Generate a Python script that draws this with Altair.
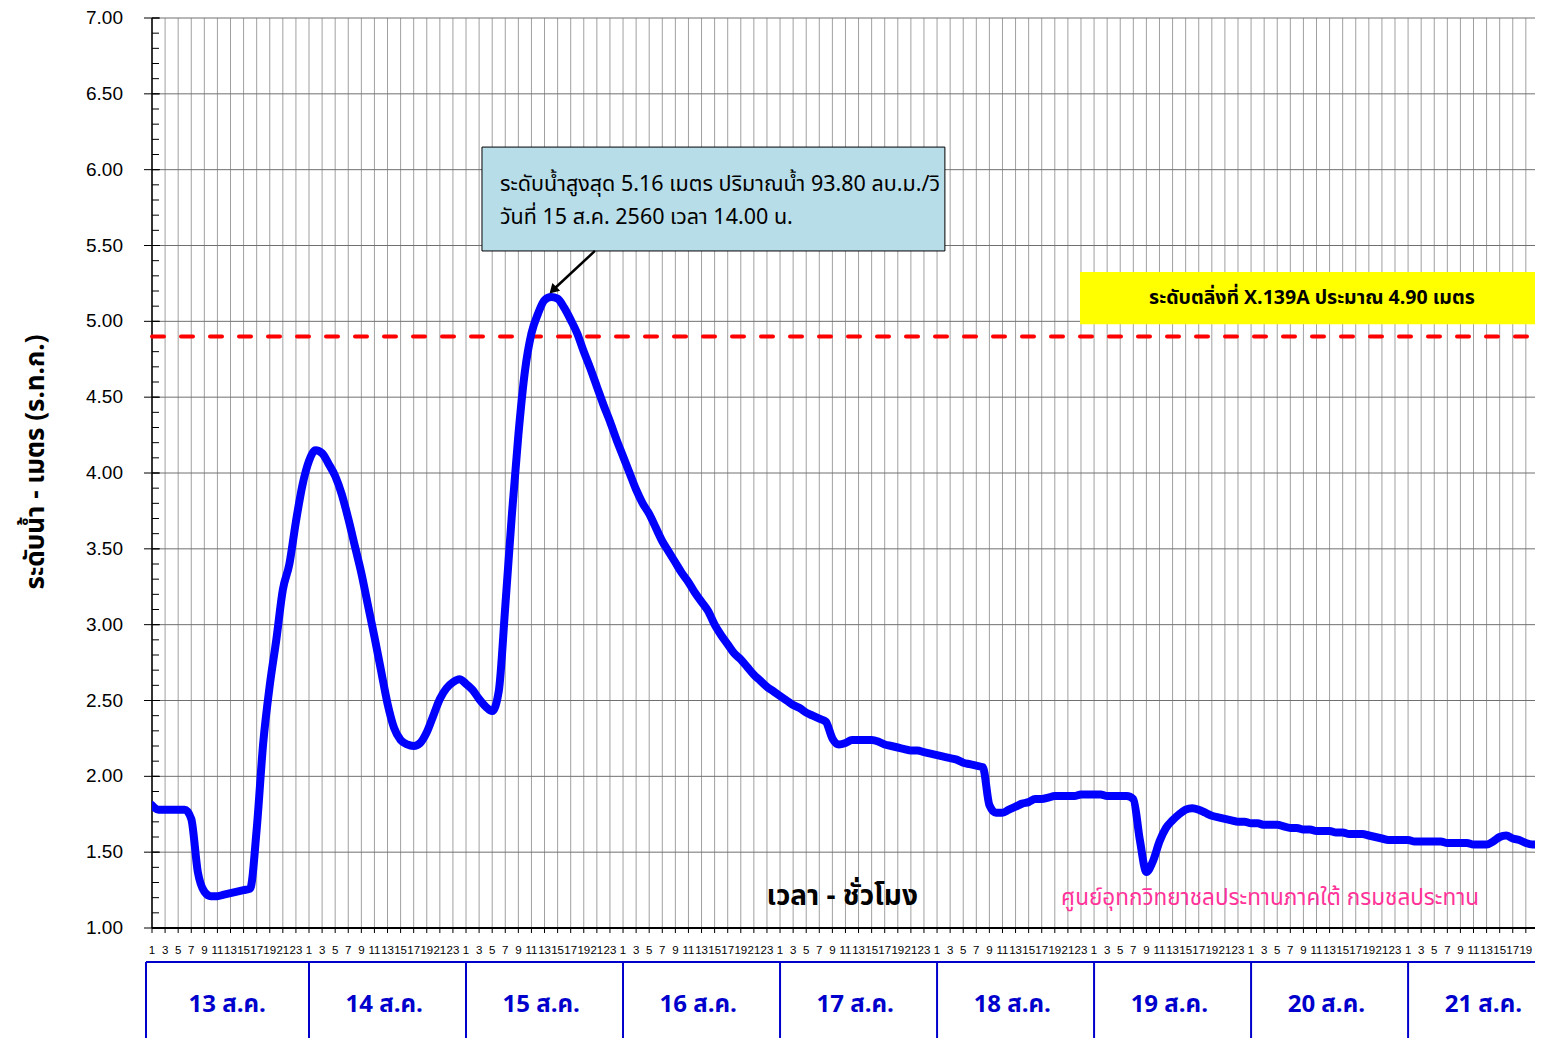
import altair as alt
import pandas as pd

# ---------------- data ----------------
day_labels = ["13 ส.ค.", "14 ส.ค.", "15 ส.ค.", "16 ส.ค.", "17 ส.ค.",
              "18 ส.ค.", "19 ส.ค.", "20 ส.ค.", "21 ส.ค."]

level_13 = [1.81, 1.78, 1.78, 1.78, 1.78, 1.78, 1.72, 1.37, 1.24, 1.21, 1.21, 1.22,
            1.23, 1.24, 1.25, 1.26, 1.65, 2.22, 2.60, 2.90, 3.23, 3.40, 3.68, 3.92]
level_14 = [4.08, 4.15, 4.13, 4.06, 3.98, 3.86, 3.70, 3.52, 3.34, 3.13, 2.92, 2.70,
            2.48, 2.32, 2.24, 2.21, 2.20, 2.22, 2.29, 2.40, 2.51, 2.58, 2.62, 2.64]
level_15 = [2.61, 2.57, 2.51, 2.46, 2.43, 2.56, 3.12, 3.72, 4.25, 4.67, 4.92, 5.05,
            5.14, 5.16, 5.15, 5.09, 5.01, 4.92, 4.80, 4.69, 4.57, 4.45, 4.34, 4.22]
level_16 = [4.11, 4.00, 3.89, 3.80, 3.73, 3.64, 3.55, 3.48, 3.41, 3.34, 3.28, 3.21,
            3.15, 3.09, 3.00, 2.93, 2.87, 2.81, 2.77, 2.72, 2.67, 2.63, 2.59, 2.56]
level_17 = [2.53, 2.50, 2.47, 2.45, 2.42, 2.40, 2.38, 2.36, 2.25, 2.21, 2.22, 2.24,
            2.24, 2.24, 2.24, 2.23, 2.21, 2.20, 2.19, 2.18, 2.17, 2.17, 2.16, 2.15]
level_18 = [2.14, 2.13, 2.12, 2.11, 2.09, 2.08, 2.07, 2.06, 1.81, 1.76, 1.76, 1.78,
            1.80, 1.82, 1.83, 1.85, 1.85, 1.86, 1.87, 1.87, 1.87, 1.87, 1.88, 1.88]
level_19 = [1.88, 1.88, 1.87, 1.87, 1.87, 1.87, 1.85, 1.58, 1.37, 1.44, 1.57, 1.66,
            1.71, 1.75, 1.78, 1.79, 1.78, 1.76, 1.74, 1.73, 1.72, 1.71, 1.70, 1.70]
level_20 = [1.69, 1.69, 1.68, 1.68, 1.68, 1.67, 1.66, 1.66, 1.65, 1.65, 1.64, 1.64,
            1.64, 1.63, 1.63, 1.62, 1.62, 1.62, 1.61, 1.60, 1.59, 1.58, 1.58, 1.58]
level_21 = [1.58, 1.57, 1.57, 1.57, 1.57, 1.57, 1.56, 1.56, 1.56, 1.56, 1.55, 1.55,
            1.55, 1.57, 1.60, 1.61, 1.59, 1.58, 1.56, 1.55, 1.55]

bank_level = 4.90
peak_hour = 61          # 15 ส.ค. 14.00 น.
peak_level = 5.16

y_major = [1.0, 1.5, 2.0, 2.5, 3.0, 3.5, 4.0, 4.5, 5.0, 5.5, 6.0, 6.5, 7.0]

callout_text = "ระดับน้ำสูงสุด 5.16 เมตร ปริมาณน้ำ 93.80 ลบ.ม./วิ\nวันที่ 15 ส.ค. 2560  เวลา 14.00 น."
bank_text = "ระดับตลิ่งที่ X.139A ประมาณ 4.90 เมตร"
xtitle_text = "เวลา - ชั่วโมง"
credit_text = "ศูนย์อุทกวิทยาชลประทานภาคใต้ กรมชลประทาน"
ytitle_text = "ระดับน้ำ - เมตร (ร.ท.ก.)"

# ---------------- build ----------------
levels = level_13 + level_14 + level_15 + level_16 + level_17 + level_18 + level_19 + level_20 + level_21
df = pd.DataFrame({"h": list(range(len(levels))), "level": levels})

X_MAX = 211.4
W, H = 1383, 910
xs = alt.Scale(domain=[0, X_MAX], nice=False, zero=False)
ys = alt.Scale(domain=[1, 7], nice=False, zero=False)

THAI = "Tahoma, 'Noto Sans Thai', 'Noto Sans Thai UI', 'Noto Sans', 'DejaVu Sans', sans-serif"
ARIAL = "Liberation Sans"


def X(f):
    return alt.X(f, type="quantitative", scale=xs, axis=None)


def Y(f):
    return alt.Y(f, type="quantitative", scale=ys, axis=None)


# --- hand-built axes (grid, ticks, labels) driven by the scales ---
x_vals = list(range(0, 211, 2))
xgrid_df = pd.DataFrame({"h": x_vals, "lab": [str(v % 24 + 1) for v in x_vals],
                         "y0": [1] * len(x_vals), "y1": [7] * len(x_vals)})
ygrid_df = pd.DataFrame({"v": y_major, "lab": [f"{v:.2f}" for v in y_major],
                         "x0": [0] * len(y_major), "x1": [X_MAX] * len(y_major)})
y_minor = [round(1 + 0.1 * i, 1) for i in range(61)]
minor_df = pd.DataFrame({"v": y_minor})

vgrid = alt.Chart(xgrid_df).mark_rule(color="#a0a0a0", strokeWidth=1).encode(
    x=X("h"), y=Y("y0"), y2="y1")
hgrid = alt.Chart(ygrid_df).mark_rule(color="#707070", strokeWidth=1).encode(
    y=Y("v"), x=X("x0"), x2="x1")
ymajor_ticks = alt.Chart(ygrid_df).mark_rule(color="#000000", strokeWidth=1).encode(
    y=Y("v"), x=alt.value(-8), x2=alt.value(8))
yminor_ticks = alt.Chart(minor_df).mark_rule(color="#000000", strokeWidth=1).encode(
    y=Y("v"), x=alt.value(0), x2=alt.value(7))
ylabels = alt.Chart(ygrid_df).mark_text(font=ARIAL, fontSize=19, color="#000000",
                                        align="right", baseline="middle").encode(
    y=Y("v"), x=alt.value(-29), text="lab:N")
xticks = alt.Chart(xgrid_df).mark_rule(color="#000000", strokeWidth=1).encode(
    x=X("h"), y=alt.value(H), y2=alt.value(H + 5))
xlabels = alt.Chart(xgrid_df).mark_text(font=ARIAL, fontSize=11.5, color="#000000",
                                        align="center", baseline="middle").encode(
    x=X("h"), y=alt.value(H + 23), text="lab:N")
dom_df = pd.DataFrame({"x0": [0], "x1": [X_MAX], "y0": [1], "y1": [7]})
ydomain = alt.Chart(dom_df).mark_rule(color="#000000", strokeWidth=1.5).encode(
    x=X("x0"), y=Y("y0"), y2="y1")
xdomain = alt.Chart(dom_df).mark_rule(color="#000000", strokeWidth=2).encode(
    y=Y("y0"), x=X("x0"), x2="x1")
ytitle_df = pd.DataFrame({"t": [ytitle_text]})
ytitle = alt.Chart(ytitle_df).mark_text(font=THAI, fontSize=26, fontWeight="bold", color="#000000",
                                        align="center", baseline="middle", angle=270).encode(
    x=alt.value(-116), y=alt.value(444), text="t:N")

# --- series and annotations ---
line = alt.Chart(df).mark_line(color="#0000FF", strokeWidth=8, interpolate="monotone",
                               strokeJoin="round", strokeCap="round", clip=True).encode(
    x=X("h"), y=Y("level"))

bank_df = pd.DataFrame({"x0": [0], "x1": [X_MAX], "v": [bank_level]})
bank_rule = alt.Chart(bank_df).mark_rule(color="#FF0000", strokeWidth=4, strokeDash=[12, 17],
                                         strokeCap="round").encode(
    x=X("x0"), x2="x1", y=Y("v"))

yellow_df = pd.DataFrame({"x0": [141.85], "x1": [X_MAX], "y0": [5.325], "y1": [4.98],
                          "tx": [177.3], "ty": [5.154], "t": [bank_text]})
yellow_box = alt.Chart(yellow_df).mark_rect(color="#FFFF00").encode(
    x=X("x0"), x2="x1", y=Y("y0"), y2="y1")
yellow_txt = alt.Chart(yellow_df).mark_text(font=THAI, fontSize=19.5, fontWeight="bold",
                                            color="#000000", align="center", baseline="middle").encode(
    x=X("tx"), y=Y("ty"), text="t:N")

call_df = pd.DataFrame({"x0": [50.44], "x1": [121.2], "y0": [6.149], "y1": [5.464],
                        "tx": [53.2], "ty": [5.899], "t": [callout_text]})
call_box = alt.Chart(call_df).mark_rect(fill="#B7DDE8", stroke="#000000", strokeWidth=1).encode(
    x=X("x0"), x2="x1", y=Y("y0"), y2="y1")
call_txt = alt.Chart(call_df).mark_text(font=THAI, fontSize=21.5, color="#000000", align="left",
                                        baseline="middle", lineBreak="\n", lineHeight=33).encode(
    x=X("tx"), y=Y("ty"), text="t:N")

arrow_df = pd.DataFrame({"x0": [67.7], "y0": [5.464], "x1": [peak_hour + 0.45], "y1": [peak_level + 0.053]})
arrow_line = alt.Chart(arrow_df).mark_rule(color="#000000", strokeWidth=2.5).encode(
    x=X("x0"), x2="x1", y=Y("y0"), y2="y1")
arrow_head = alt.Chart(arrow_df).mark_point(shape="triangle", filled=True, color="#000000",
                                            size=120, angle=225, opacity=1).encode(
    x=X("x1"), y=Y("y1"))

lbl_df = pd.DataFrame({"x": [105.5], "y": [1.205], "t": [xtitle_text]})
xtitle = alt.Chart(lbl_df).mark_text(font=THAI, fontSize=28, fontWeight="bold", color="#000000",
                                     align="center", baseline="middle").encode(
    x=X("x"), y=Y("y"), text="t:N")
cred_df = pd.DataFrame({"x": [170.9], "y": [1.20], "t": [credit_text]})
credit = alt.Chart(cred_df).mark_text(font=THAI, fontSize=22.5, color="#FF3399",
                                      align="center", baseline="middle").encode(
    x=X("x"), y=Y("y"), text="t:N")

# --- day boxes below the axis ---
n_days = len(day_labels)
bounds = [-0.92] + [24 * k for k in range(1, n_days)]
centers = [24 * k + 11.5 for k in range(n_days)]
bound_df = pd.DataFrame({"b": bounds})
top_df = pd.DataFrame({"x0": [-0.92], "x1": [X_MAX]})
day_df = pd.DataFrame({"c": centers, "t": day_labels})
BOX_BLUE = "#0000CC"
box_top = alt.Chart(top_df).mark_rule(color=BOX_BLUE, strokeWidth=2).encode(
    x=X("x0"), x2="x1", y=alt.value(944))
box_sides = alt.Chart(bound_df).mark_rule(color=BOX_BLUE, strokeWidth=2).encode(
    x=X("b"), y=alt.value(944), y2=alt.value(1030))
box_txt = alt.Chart(day_df).mark_text(font=THAI, fontSize=24, fontWeight="bold", color=BOX_BLUE,
                                      align="center", baseline="middle").encode(
    x=X("c"), y=alt.value(987), text="t:N")

chart = alt.layer(
    vgrid, hgrid, call_box, yellow_box, yminor_ticks, ymajor_ticks, ydomain, xdomain, xticks,
    ylabels, xlabels, ytitle, bank_rule, line, yellow_txt, call_txt,
    arrow_line, arrow_head, xtitle, credit, box_top, box_sides, box_txt
).properties(
    width=W, height=H,
    padding={"left": 144, "top": 10, "right": 0, "bottom": 110},
    autosize=alt.AutoSizeParams(type="none"),
    background="#FFFFFF",
).configure_view(stroke=None)

chart.save("out.html", embed_options={"renderer": "svg", "actions": False})
